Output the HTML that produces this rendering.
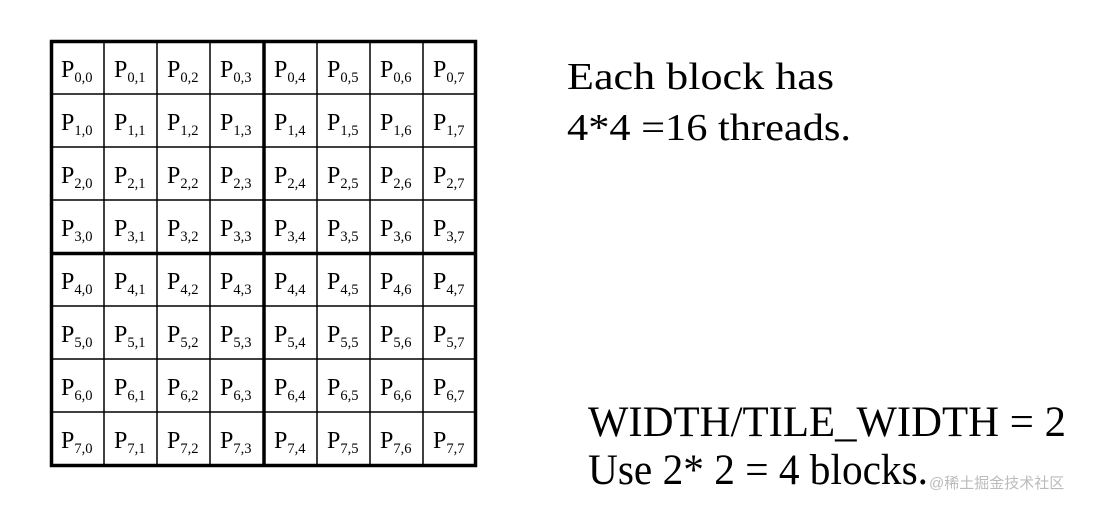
<!DOCTYPE html>
<html><head><meta charset="utf-8"><style>
html,body{margin:0;padding:0;background:#fff;width:1108px;height:508px;overflow:hidden}
svg{position:absolute;left:0;top:0}
.p{font-family:"Liberation Serif",serif;font-size:24px;fill:#000}
.s{font-size:14.5px}
.t{font-family:"Liberation Serif",serif;font-size:38px;fill:#000}
.b{font-size:43px}
.w{font-family:"Liberation Sans","Noto Sans CJK SC",sans-serif;font-size:15px;fill:#bbb}
</style></head><body>
<svg width="1108" height="508" viewBox="0 0 1108 508">
<g stroke="#000" stroke-width="1.5">
<line x1="104" y1="41" x2="104" y2="466"/><line x1="157" y1="41" x2="157" y2="466"/><line x1="210" y1="41" x2="210" y2="466"/>
<line x1="317" y1="41" x2="317" y2="466"/><line x1="370" y1="41" x2="370" y2="466"/><line x1="423" y1="41" x2="423" y2="466"/>
<line x1="51" y1="94" x2="476" y2="94"/><line x1="51" y1="147" x2="476" y2="147"/><line x1="51" y1="200" x2="476" y2="200"/>
<line x1="51" y1="306" x2="476" y2="306"/><line x1="51" y1="359" x2="476" y2="359"/><line x1="51" y1="412" x2="476" y2="412"/>
</g>
<g stroke="#000" stroke-width="3.5" fill="none">
<rect x="51.5" y="41.5" width="424" height="424"/>
<line x1="264" y1="41" x2="264" y2="466"/><line x1="51" y1="253.5" x2="476" y2="253.5"/>
</g>
<g class="p">
<text x="61" y="77">P<tspan class="s" dy="5">0,0</tspan></text><text x="114" y="77">P<tspan class="s" dy="5">0,1</tspan></text><text x="167" y="77">P<tspan class="s" dy="5">0,2</tspan></text><text x="220" y="77">P<tspan class="s" dy="5">0,3</tspan></text><text x="274" y="77">P<tspan class="s" dy="5">0,4</tspan></text><text x="327" y="77">P<tspan class="s" dy="5">0,5</tspan></text><text x="380" y="77">P<tspan class="s" dy="5">0,6</tspan></text><text x="433" y="77">P<tspan class="s" dy="5">0,7</tspan></text>
<text x="61" y="130">P<tspan class="s" dy="5">1,0</tspan></text><text x="114" y="130">P<tspan class="s" dy="5">1,1</tspan></text><text x="167" y="130">P<tspan class="s" dy="5">1,2</tspan></text><text x="220" y="130">P<tspan class="s" dy="5">1,3</tspan></text><text x="274" y="130">P<tspan class="s" dy="5">1,4</tspan></text><text x="327" y="130">P<tspan class="s" dy="5">1,5</tspan></text><text x="380" y="130">P<tspan class="s" dy="5">1,6</tspan></text><text x="433" y="130">P<tspan class="s" dy="5">1,7</tspan></text>
<text x="61" y="183">P<tspan class="s" dy="5">2,0</tspan></text><text x="114" y="183">P<tspan class="s" dy="5">2,1</tspan></text><text x="167" y="183">P<tspan class="s" dy="5">2,2</tspan></text><text x="220" y="183">P<tspan class="s" dy="5">2,3</tspan></text><text x="274" y="183">P<tspan class="s" dy="5">2,4</tspan></text><text x="327" y="183">P<tspan class="s" dy="5">2,5</tspan></text><text x="380" y="183">P<tspan class="s" dy="5">2,6</tspan></text><text x="433" y="183">P<tspan class="s" dy="5">2,7</tspan></text>
<text x="61" y="236">P<tspan class="s" dy="5">3,0</tspan></text><text x="114" y="236">P<tspan class="s" dy="5">3,1</tspan></text><text x="167" y="236">P<tspan class="s" dy="5">3,2</tspan></text><text x="220" y="236">P<tspan class="s" dy="5">3,3</tspan></text><text x="274" y="236">P<tspan class="s" dy="5">3,4</tspan></text><text x="327" y="236">P<tspan class="s" dy="5">3,5</tspan></text><text x="380" y="236">P<tspan class="s" dy="5">3,6</tspan></text><text x="433" y="236">P<tspan class="s" dy="5">3,7</tspan></text>
<text x="61" y="289">P<tspan class="s" dy="5">4,0</tspan></text><text x="114" y="289">P<tspan class="s" dy="5">4,1</tspan></text><text x="167" y="289">P<tspan class="s" dy="5">4,2</tspan></text><text x="220" y="289">P<tspan class="s" dy="5">4,3</tspan></text><text x="274" y="289">P<tspan class="s" dy="5">4,4</tspan></text><text x="327" y="289">P<tspan class="s" dy="5">4,5</tspan></text><text x="380" y="289">P<tspan class="s" dy="5">4,6</tspan></text><text x="433" y="289">P<tspan class="s" dy="5">4,7</tspan></text>
<text x="61" y="342">P<tspan class="s" dy="5">5,0</tspan></text><text x="114" y="342">P<tspan class="s" dy="5">5,1</tspan></text><text x="167" y="342">P<tspan class="s" dy="5">5,2</tspan></text><text x="220" y="342">P<tspan class="s" dy="5">5,3</tspan></text><text x="274" y="342">P<tspan class="s" dy="5">5,4</tspan></text><text x="327" y="342">P<tspan class="s" dy="5">5,5</tspan></text><text x="380" y="342">P<tspan class="s" dy="5">5,6</tspan></text><text x="433" y="342">P<tspan class="s" dy="5">5,7</tspan></text>
<text x="61" y="395">P<tspan class="s" dy="5">6,0</tspan></text><text x="114" y="395">P<tspan class="s" dy="5">6,1</tspan></text><text x="167" y="395">P<tspan class="s" dy="5">6,2</tspan></text><text x="220" y="395">P<tspan class="s" dy="5">6,3</tspan></text><text x="274" y="395">P<tspan class="s" dy="5">6,4</tspan></text><text x="327" y="395">P<tspan class="s" dy="5">6,5</tspan></text><text x="380" y="395">P<tspan class="s" dy="5">6,6</tspan></text><text x="433" y="395">P<tspan class="s" dy="5">6,7</tspan></text>
<text x="61" y="448">P<tspan class="s" dy="5">7,0</tspan></text><text x="114" y="448">P<tspan class="s" dy="5">7,1</tspan></text><text x="167" y="448">P<tspan class="s" dy="5">7,2</tspan></text><text x="220" y="448">P<tspan class="s" dy="5">7,3</tspan></text><text x="274" y="448">P<tspan class="s" dy="5">7,4</tspan></text><text x="327" y="448">P<tspan class="s" dy="5">7,5</tspan></text><text x="380" y="448">P<tspan class="s" dy="5">7,6</tspan></text><text x="433" y="448">P<tspan class="s" dy="5">7,7</tspan></text>
</g>
<text class="t" x="567" y="89" textLength="267" lengthAdjust="spacingAndGlyphs">Each block has</text>
<text class="t" x="567" y="140" textLength="284" lengthAdjust="spacingAndGlyphs">4*4 =16 threads.</text>
<text class="t b" x="588" y="436" textLength="478" lengthAdjust="spacingAndGlyphs">WIDTH/TILE_WIDTH = 2</text>
<text class="t b" x="588" y="484" textLength="340" lengthAdjust="spacingAndGlyphs">Use 2* 2 = 4 blocks.</text>
<text class="w" x="929" y="488">@稀土掘金技术社区</text>
</svg>
</body></html>
